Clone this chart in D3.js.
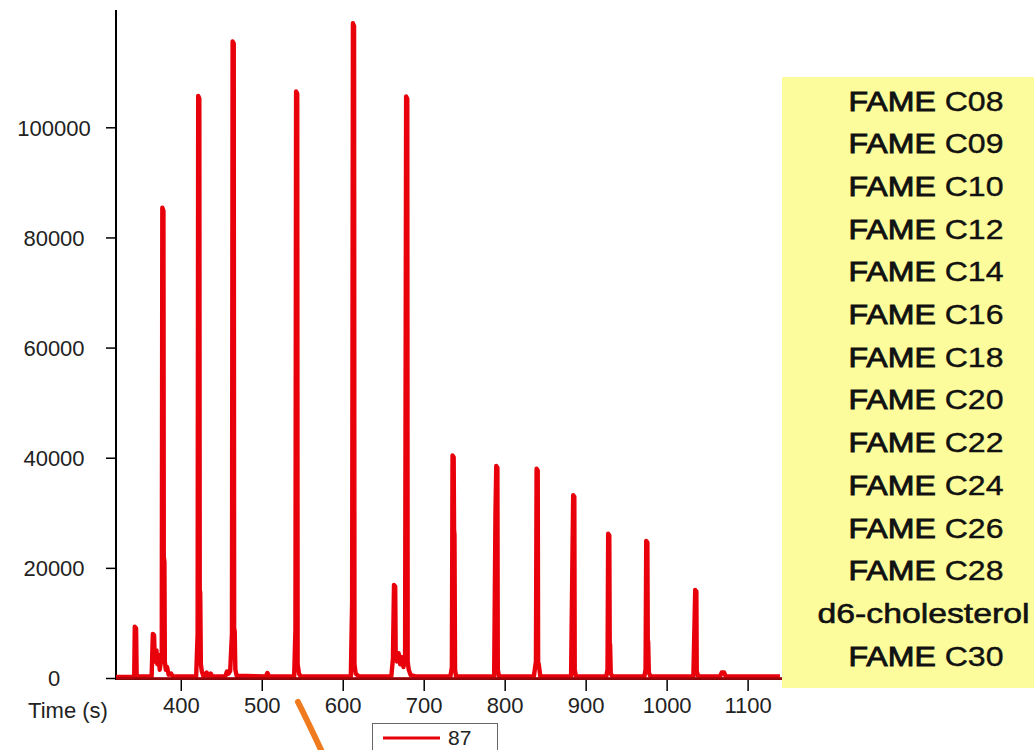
<!DOCTYPE html>
<html>
<head>
<meta charset="utf-8">
<script src="https://cdn.jsdelivr.net/npm/d3@7"></script>
<style>
  html, body { margin: 0; padding: 0; background: #fff; }
  svg { display: block; }
  text { font-family: "Liberation Sans", Arial, sans-serif; }
</style>
</head>
<body>
<svg id="chart" width="1034" height="750"></svg>
<script>
// ---- data ----
const seriesName = "87";
const timeS = [
  320, 340, 342.5, 343.2, 344.8, 345.5, 347,
  364, 365.5, 367.0, 367.8, 369, 370, 371, 372.5, 374, 375.5, 376.5,
  377.2, 378.6, 379.0, 379.8, 380.3, 381.5, 383, 385, 388, 390,
  419, 420.8, 421.5, 422.9, 423.4, 424, 424.8, 426, 428,
  432, 434, 437, 439, 455, 457, 459, 461,
  463.2, 464, 465.4, 465.9, 466.6, 467.4, 469,
  505, 507, 509,
  540, 541.6, 542.4, 543.8, 544.3, 546, 548,
  610, 611.6, 612.6, 614.0, 614.5, 616, 620,
  660, 662, 663.3, 664.8, 665.4, 667, 669, 671, 673, 675, 677,
  678.3, 679.7, 680.2, 681.5, 684, 690,
  733, 734.8, 735.6, 737.0, 737.5, 738, 738.7, 740,
  787, 788.6, 789.6, 791.0, 791.5, 793,
  836, 838.6, 839.4, 840.8, 841.3, 842, 844,
  882, 883.6, 884.6, 886.0, 886.5, 888,
  925.5, 927, 927.8, 929.2, 929.7, 930.2, 931, 933,
  972.5, 974, 974.8, 976.2, 976.7, 977.2, 978, 980,
  1033, 1034.6, 1035.3, 1036.7, 1037.2, 1039,
  1066, 1068, 1071, 1073, 1140
];
const intensity = [
  200, 200, 300, 9300, 9000, 400, 300,
  300, 8000, 7800, 4000, 3000, 5000, 2500, 4200, 1500, 3000, 3500,
  85400, 84800, 22000, 21000, 3000, 1500, 2000, 600, 800, 300,
  300, 8000, 105700, 105200, 16000, 15500, 2500, 1200, 300,
  1000, 300, 800, 300, 300, 1200, 800, 1300,
  8000, 115600, 115200, 9000, 8500, 1500, 400,
  300, 900, 300,
  300, 8800, 106500, 106100, 2500, 800, 300,
  300, 13800, 118900, 118400, 2500, 800, 300,
  300, 3500, 16900, 16600, 4000, 3000, 4500, 2500, 3800, 2000, 3500,
  105600, 105200, 3000, 1500, 500, 300,
  300, 2000, 40400, 40100, 26800, 26000, 1500, 300,
  300, 29600, 38500, 38200, 1500, 300,
  300, 3000, 38000, 37700, 2800, 2600, 300,
  300, 20800, 33200, 32900, 1500, 300,
  300, 1500, 26200, 25900, 6400, 6000, 800, 300,
  300, 1500, 24900, 24600, 7000, 6500, 1000, 300,
  300, 11000, 16000, 15700, 1200, 300,
  300, 1000, 1000, 300, 300
];
const xTicks = [400, 500, 600, 700, 800, 900, 1000, 1100];
const yTicks = [0, 20000, 40000, 60000, 80000, 100000];
const xAxisLabel = "Time (s)";
const compounds = [
  ["FAME", "C08"], ["FAME", "C09"], ["FAME", "C10"], ["FAME", "C12"],
  ["FAME", "C14"], ["FAME", "C16"], ["FAME", "C18"], ["FAME", "C20"],
  ["FAME", "C22"], ["FAME", "C24"], ["FAME", "C26"], ["FAME", "C28"],
  ["d6-cholesterol", ""], ["FAME", "C30"]
];

// ---- drawing ----
const svg = d3.select("#chart");
const x = d3.scaleLinear().domain([320, 1140]).range([116, 780]);
const y = d3.scaleLinear().domain([0, 121300]).range([678, 10]);
const pts = timeS.map((t, i) => [t, intensity[i]]);

// axes
const yAxis = d3.axisLeft(y).tickValues(yTicks).tickFormat(d3.format("d")).tickSize(10).tickPadding(0);
const gy = svg.append("g").attr("transform", "translate(116,0)").call(yAxis);
gy.select(".domain").attr("stroke", "#000").attr("stroke-width", 2)
  .attr("d", `M0,${y.range()[1]}V${y(0) + 2}`);
gy.selectAll(".tick line").attr("stroke", "#000").attr("stroke-width", 1.5);
gy.selectAll(".tick text").attr("x", -62).attr("text-anchor", "middle").attr("dy", "0.36em")
  .style("font-size", "22px").attr("fill", "#222").style("font-family", "'Liberation Sans', Arial, sans-serif");

const xAxis = d3.axisBottom(x).tickValues(xTicks).tickFormat(d3.format("d")).tickSize(12).tickPadding(6);
const gx = svg.append("g").attr("transform", "translate(0,679)").call(xAxis);
gx.select(".domain").attr("stroke", "#000").attr("stroke-width", 2)
  .attr("d", `M116,0H782`);
gx.selectAll(".tick line").attr("stroke", "#000").attr("stroke-width", 1.5);
gx.selectAll(".tick text").style("font-size", "22px").attr("fill", "#222")
  .style("font-family", "'Liberation Sans', Arial, sans-serif");

svg.append("text").attr("x", 68).attr("y", 718).attr("text-anchor", "middle")
  .style("font-size", "22px").attr("fill", "#222").text(xAxisLabel);

// signal line
const line = d3.line().x(d => x(d[0])).y(d => y(d[1]));
svg.append("path").datum(pts)
  .attr("d", line)
  .attr("fill", "none")
  .attr("stroke", "#e8000b")
  .attr("stroke-width", 4.4)
  .attr("stroke-linejoin", "round")
  .attr("stroke-linecap", "butt");

// dark baseline over axis
svg.append("line").attr("x1", 116).attr("x2", 782).attr("y1", 678.5).attr("y2", 678.5)
  .attr("stroke", "#a5070c").attr("stroke-width", 3).attr("opacity", 0.85);

// legend
const lg = svg.append("g");
lg.append("rect").attr("x", 372.5).attr("y", 723.5).attr("width", 125).attr("height", 32)
  .attr("fill", "#fff").attr("stroke", "#666").attr("stroke-width", 1);
lg.append("line").attr("x1", 383).attr("x2", 440).attr("y1", 738).attr("y2", 738)
  .attr("stroke", "#e8000b").attr("stroke-width", 3);
lg.append("text").attr("x", 448).attr("y", 745).style("font-size", "21px").attr("fill", "#222").text(seriesName);

// orange callout stroke
svg.append("path").attr("d", "M298,702 Q309,724 322,752")
  .attr("fill", "none").attr("stroke", "#f07a1e").attr("stroke-width", 6).attr("stroke-linecap", "round");

// yellow compound box
svg.append("rect").attr("x", 782).attr("y", 77).attr("width", 252).attr("height", 611).attr("fill", "#fdfc9c");
const rows = svg.append("g");
compounds.forEach((c, i) => {
  const t = rows.append("text")
    .attr("x", c[1] ? 926 : 923.5)
    .attr("y", 110.5 + i * 42.7)
    .attr("text-anchor", "middle")
    .style("font-size", "28px")
    .attr("fill", "#111")
    .attr("textLength", c[1] ? 155 : 212)
    .attr("lengthAdjust", "spacingAndGlyphs");
  if (c[1]) {
    t.append("tspan").attr("stroke", "#111").attr("stroke-width", 0.9).text(c[0] + " ");
    t.append("tspan").attr("stroke", "#111").attr("stroke-width", 0.4).text(c[1]);
  } else {
    t.attr("stroke", "#111").attr("stroke-width", 0.6).text(c[0]);
  }
});
</script>
</body>
</html>
